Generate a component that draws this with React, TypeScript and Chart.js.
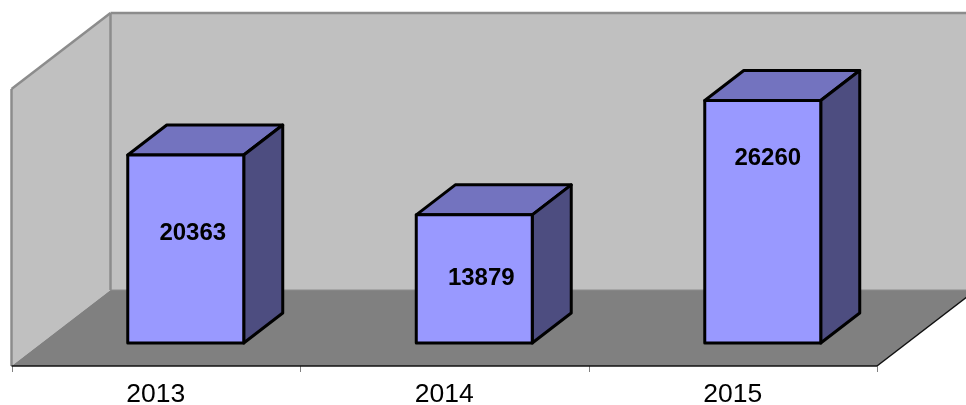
import React, { useEffect, useRef } from "react";
import { Chart, registerables } from "chart.js";

Chart.register(...registerables);

const categories = ["2013", "2014", "2015"];
const values = [20363, 13879, 26260];
const valueMax = 30000;
// manual placement of the value labels, relative to each bar's top centre
const labelShiftX = [7, 7, 5];
const labelShiftY = [78, 63.5, 57.5];

const FONT = '"Liberation Sans", Arial, sans-serif';
const WALL = "#c0c0c0";
const FLOOR = "#808080";
const EDGE = "#8c8c8c";
const FRONT = "#9999ff";
const TOP = "#7373bf";
const SIDE = "#4d4d80";

// projection of the 3D box, px
const FLOOR_DX = 99;
const FLOOR_DY = 76;
const BAR_DX = 39;
const BAR_DY = 30;
const NEAR_DX = 30; // front plane of bars relative to front of floor
const NEAR_DY = 23;

const poly = (ctx: CanvasRenderingContext2D, pts: number[][], fill?: string, stroke?: string, lw = 3) => {
  ctx.beginPath();
  pts.forEach((p, i) => (i ? ctx.lineTo(p[0], p[1]) : ctx.moveTo(p[0], p[1])));
  ctx.closePath();
  if (fill) {
    ctx.fillStyle = fill;
    ctx.fill();
  }
  if (stroke) {
    ctx.strokeStyle = stroke;
    ctx.lineWidth = lw;
    ctx.lineJoin = "round";
    ctx.stroke();
  }
};

const line = (ctx: CanvasRenderingContext2D, a: number[], b: number[], color: string, lw: number) => {
  ctx.beginPath();
  ctx.moveTo(a[0], a[1]);
  ctx.lineTo(b[0], b[1]);
  ctx.strokeStyle = color;
  ctx.lineWidth = lw;
  ctx.stroke();
};

const box3d = {
  id: "box3d",
  beforeDatasetsDraw(chart: any) {
    const { ctx, chartArea: ca } = chart;
    const fl = ca.left - NEAR_DX; // front left of floor
    const fr = ca.right - NEAR_DX;
    const fb = ca.bottom + NEAR_DY;
    const ft = ca.top + NEAR_DY;
    ctx.save();
    // back wall
    poly(ctx, [[fl + FLOOR_DX, ft - FLOOR_DY], [fr + FLOOR_DX, ft - FLOOR_DY], [fr + FLOOR_DX, fb - FLOOR_DY], [fl + FLOOR_DX, fb - FLOOR_DY]], WALL);
    // left wall
    poly(ctx, [[fl, ft], [fl + FLOOR_DX, ft - FLOOR_DY], [fl + FLOOR_DX, fb - FLOOR_DY], [fl, fb]], WALL);
    // floor
    poly(ctx, [[fl, fb], [fl + FLOOR_DX, fb - FLOOR_DY], [fr + FLOOR_DX, fb - FLOOR_DY], [fr, fb]], FLOOR);
    // wall edges
    line(ctx, [fl, fb], [fl, ft], EDGE, 2.5);
    line(ctx, [fl, ft], [fl + FLOOR_DX, ft - FLOOR_DY], EDGE, 2.5);
    line(ctx, [fl + FLOOR_DX, ft - FLOOR_DY], [fl + FLOOR_DX, fb - FLOOR_DY], EDGE, 2.5);
    line(ctx, [fl + FLOOR_DX, ft - FLOOR_DY], [fr + FLOOR_DX, ft - FLOOR_DY], EDGE, 2.5);
    line(ctx, [fl + FLOOR_DX, fb - FLOOR_DY], [fr + FLOOR_DX, fb - FLOOR_DY], "#8c8c8c", 1);
    // front floor edge, ticks and right floor edge
    const step = (ca.right - ca.left) / categories.length;
    for (let i = 0; i <= categories.length; i++) {
      const x = Math.round(fl + i * step) + 0.5;
      line(ctx, [x, fb], [x, fb + 6], "#808080", 1);
    }
    line(ctx, [fl, fb], [fr, fb], "#111111", 1.5);
    line(ctx, [fr, fb], [fr + FLOOR_DX, fb - FLOOR_DY], "#111111", 1.5);
    // bars' top and side faces
    const meta = chart.getDatasetMeta(0);
    meta.data.forEach((el: any) => {
      const { x, y, base, width } = el.getProps(["x", "y", "base", "width"], true);
      const l = x - width / 2;
      const r = x + width / 2;
      poly(ctx, [[l, y], [l + BAR_DX, y - BAR_DY], [r + BAR_DX, y - BAR_DY], [r, y]], TOP, "#000000");
      poly(ctx, [[r, y], [r + BAR_DX, y - BAR_DY], [r + BAR_DX, base - BAR_DY], [r, base]], SIDE, "#000000");
    });
    ctx.restore();
  },
  afterDatasetsDraw(chart: any) {
    const { ctx } = chart;
    const meta = chart.getDatasetMeta(0);
    ctx.save();
    meta.data.forEach((el: any) => {
      const { x, y, base, width } = el.getProps(["x", "y", "base", "width"], true);
      const l = x - width / 2;
      const r = x + width / 2;
      poly(ctx, [[l, y], [r, y], [r, base], [l, base]], undefined, "#000000");
    });
    ctx.font = `bold 24px ${FONT}`;
    ctx.fillStyle = "#000000";
    ctx.textAlign = "center";
    ctx.textBaseline = "middle";
    meta.data.forEach((el: any, i: number) => {
      const { x, y } = el.getProps(["x", "y"], true);
      ctx.fillText(String(values[i]), x + labelShiftX[i], y + labelShiftY[i]);
    });
    ctx.restore();
  },
};

export default function App() {
  const ref = useRef<HTMLCanvasElement>(null);
  useEffect(() => {
    const chart = new Chart(ref.current as HTMLCanvasElement, {
      type: "bar",
      data: {
        labels: categories,
        datasets: [
          {
            data: values,
            backgroundColor: FRONT,
            borderWidth: 0,
            categoryPercentage: 1,
            barPercentage: 0.402,
          },
        ],
      },
      options: {
        responsive: false,
        animation: false,
        layout: { padding: { left: 41.5, right: 59, top: 66, bottom: 0 } },
        plugins: { legend: { display: false }, tooltip: { enabled: false } },
        scales: {
          x: {
            grid: { display: false },
            border: { display: false },
            afterFit(scale: any) {
              scale.height = 62;
            },
            ticks: {
              color: "#000000",
              font: { family: FONT, size: 26.5 },
              maxRotation: 0,
              labelOffset: -NEAR_DX,
              padding: 28,
            },
          },
          y: { display: false, min: 0, max: valueMax },
        },
      },
      plugins: [box3d],
    } as any);
    return () => chart.destroy();
  }, []);
  return (
    <div style={{ position: "fixed", left: 0, top: 0, width: 966, height: 405, background: "#ffffff" }}>
      <canvas ref={ref} width={966} height={405} style={{ display: "block" }} />
    </div>
  );
}
